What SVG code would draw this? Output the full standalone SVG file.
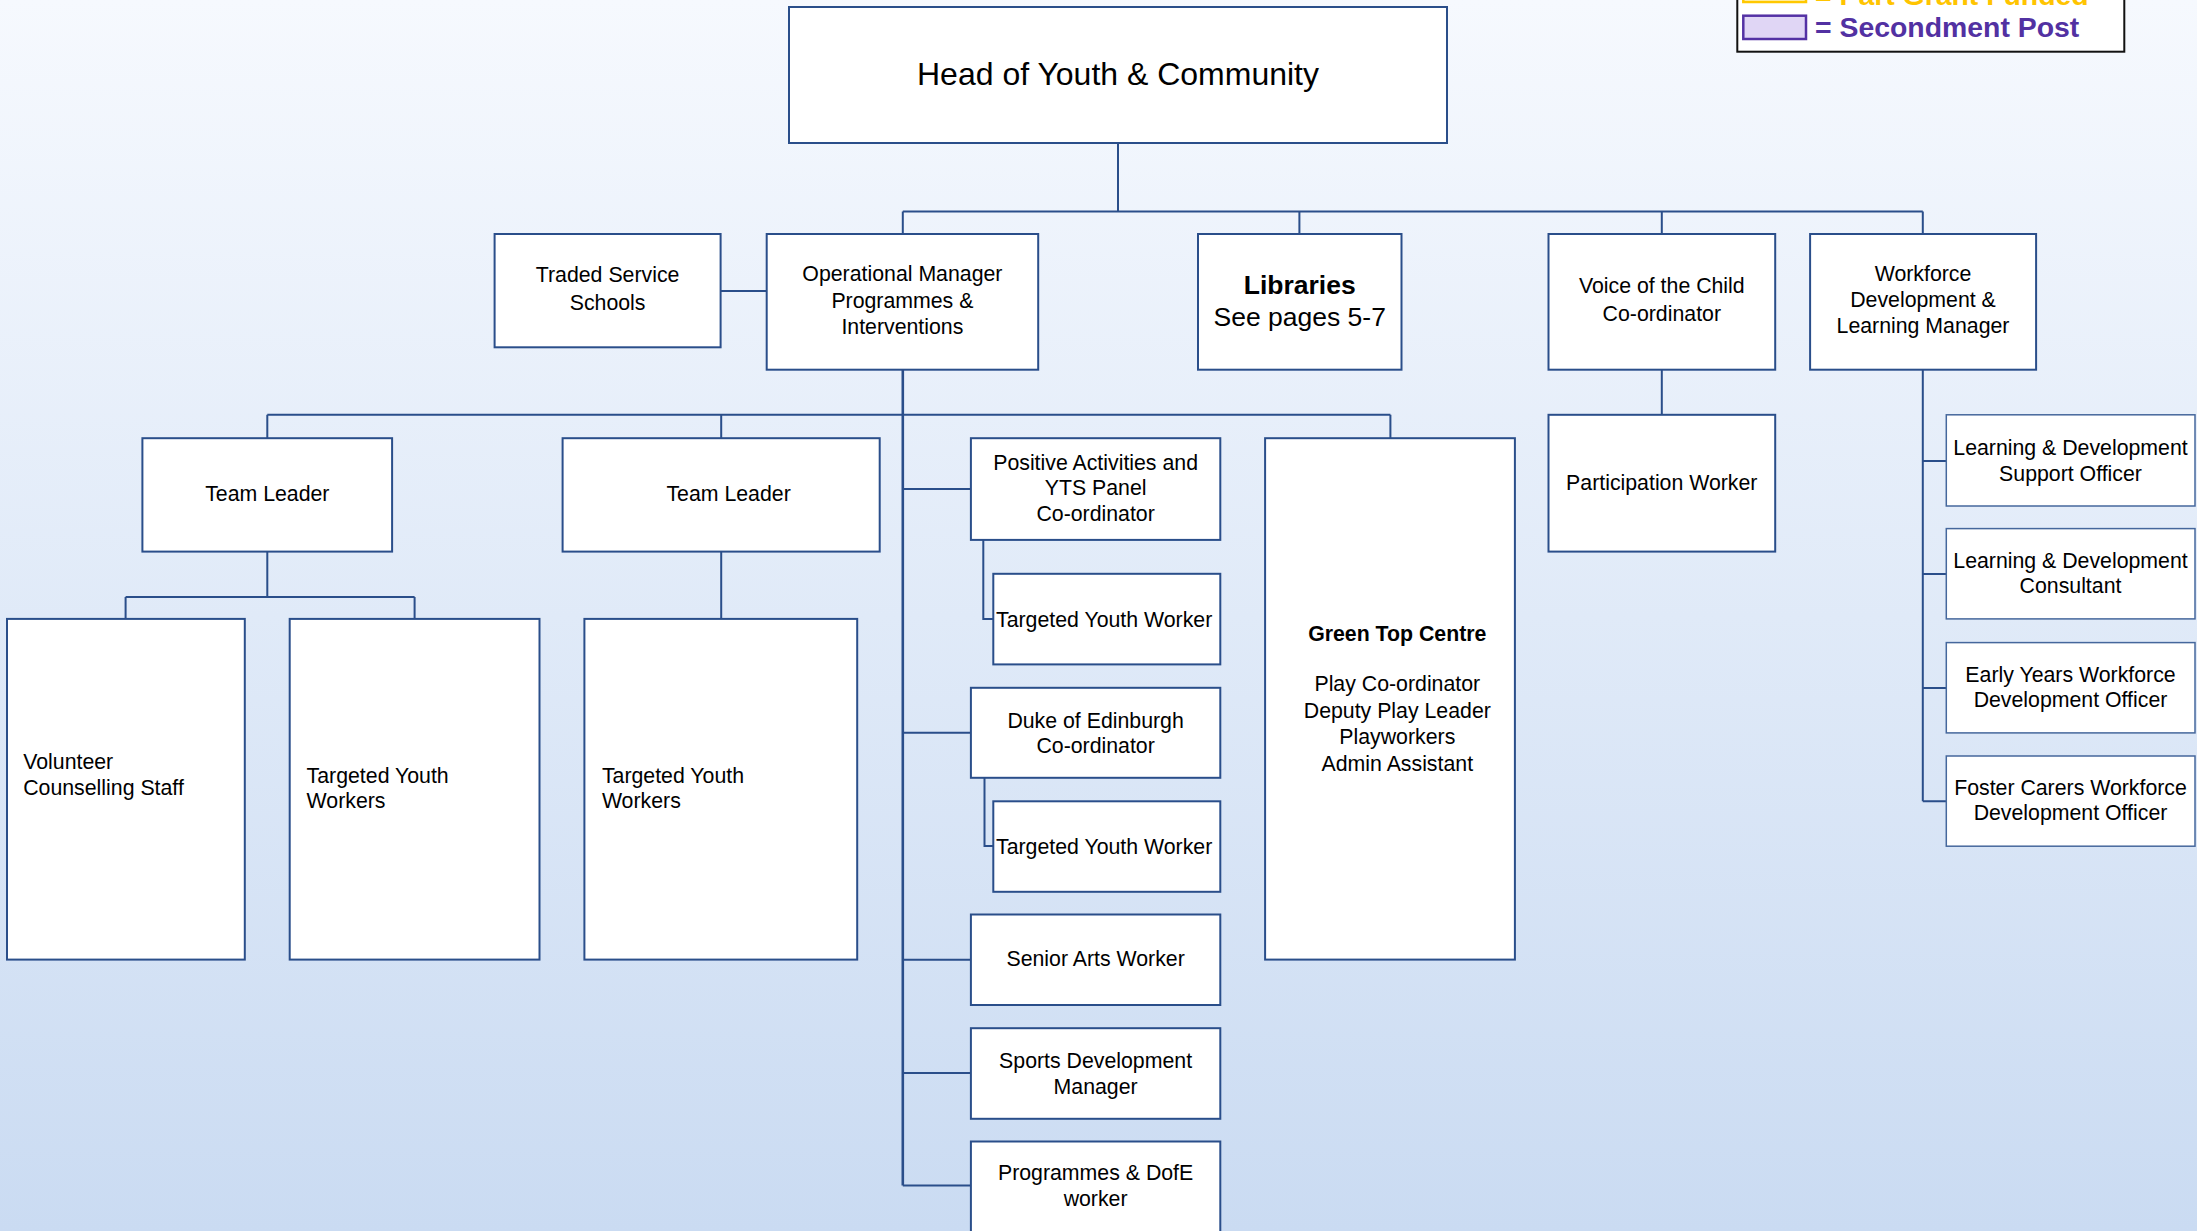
<svg xmlns="http://www.w3.org/2000/svg" width="2197" height="1231" viewBox="0 0 2197 1231">
<defs>
<linearGradient id="bg" x1="0" y1="0" x2="0" y2="1">
<stop offset="0" stop-color="#F6F9FE"/>
<stop offset="1" stop-color="#CADBF2"/>
</linearGradient>
</defs>
<style>
.box{fill:#FFFFFF;stroke:#2A4E8A;stroke-width:2}
.thin{fill:#FFFFFF;stroke:#45679C;stroke-width:1.5}
.ln{fill:none;stroke:#2A4E8A;stroke-width:2}
.main{fill:none;stroke:#2A4E8A;stroke-width:2.6}
text{font-family:"Liberation Sans",Arial,sans-serif;font-size:21.3px;fill:#000000}
.c{text-anchor:middle}
.b{font-weight:bold}
.leg{font-size:28.4px;font-weight:bold}
</style>
<rect x="0" y="0" width="2197" height="1231" fill="url(#bg)"/>

<g id="connectors">
<path class="ln" d="M1118 143 V211.5 M902.8 211.5 H1922.8 M902.8 211.5 V234 M1299.4 211.5 V234 M1661.8 211.5 V234 M1922.8 211.5 V234"/>
<path class="ln" d="M720.5 291 H766.7"/>
<path class="main" d="M902.8 369.7 V1185.4"/>
<path class="ln" d="M267.3 414.8 H1390.4 M267.3 414.8 V438.2 M721.2 414.8 V438.2 M1390.4 414.8 V438.2"/>
<path class="ln" d="M267.3 551.6 V597.1 M125.6 597.1 H414.6 M125.6 597.1 V618.9 M414.6 597.1 V618.9"/>
<path class="ln" d="M721.2 551.6 V618.9"/>
<path class="ln" d="M902.8 489 H970.9 M902.8 732.8 H970.9 M902.8 959.8 H970.9 M902.8 1073 H970.9 M902.8 1185.4 H970.9"/>
<path class="ln" d="M983.3 539.9 V618.9 H993.3 M984.5 777.8 V846 H993.3"/>
<path class="ln" d="M1661.8 369.7 V414.8"/>
<path class="ln" d="M1922.8 369.7 V801.3 M1922.8 461 H1946.3 M1922.8 574 H1946.3 M1922.8 688 H1946.3 M1922.8 801.3 H1946.3"/>
</g>

<g id="legend">
<rect x="1737.3" y="-40" width="387" height="91.7" fill="#FFFFFF" stroke="#111111" stroke-width="2"/>
<rect x="1743.3" y="-21" width="62.7" height="23" fill="#FFF8D0" stroke="#FFC800" stroke-width="2.5"/>
<text class="leg" x="1815" y="5" style="fill:#FFC400">= Part Grant Funded</text>
<rect x="1743.3" y="15.7" width="62.7" height="23.3" fill="#E0D6F5" stroke="#5432A4" stroke-width="2.5"/>
<text class="leg" x="1815" y="37.3" style="fill:#5231A2">= Secondment Post</text>
</g>

<g id="head">
<rect class="box" x="789" y="7" width="658" height="136"/>
<text class="c" x="1118" y="85" style="font-size:32px">Head of Youth &amp; Community</text>
</g>

<g id="traded">
<rect class="box" x="494.6" y="234" width="226" height="113.3"/>
<text class="c" x="607.6" y="282">Traded Service</text>
<text class="c" x="607.6" y="310">Schools</text>
</g>

<g id="opmanager">
<rect class="box" x="766.7" y="234" width="271.5" height="135.7"/>
<text class="c" x="902.4" y="281">Operational Manager</text>
<text class="c" x="902.4" y="307.5">Programmes &amp;</text>
<text class="c" x="902.4" y="334">Interventions</text>
</g>

<g id="libraries">
<rect class="box" x="1198" y="234" width="203.5" height="135.7"/>
<text class="c b" x="1299.7" y="294" style="font-size:26.5px">Libraries</text>
<text class="c" x="1299.7" y="325.5" style="font-size:26.5px">See pages 5-7</text>
</g>

<g id="voice">
<rect class="box" x="1548.5" y="234" width="226.7" height="135.7"/>
<text class="c" x="1661.8" y="293.3">Voice of the Child</text>
<text class="c" x="1661.8" y="321.3">Co-ordinator</text>
</g>

<g id="workforce">
<rect class="box" x="1810.1" y="234" width="226" height="135.7"/>
<text class="c" x="1923" y="280.7">Workforce</text>
<text class="c" x="1923" y="307.3">Development &amp;</text>
<text class="c" x="1923" y="333">Learning Manager</text>
</g>

<g id="teamleader1">
<rect class="box" x="142.4" y="438.2" width="249.7" height="113.4"/>
<text class="c" x="267.3" y="500.7">Team Leader</text>
</g>

<g id="teamleader2">
<rect class="box" x="562.6" y="438.2" width="317.1" height="113.4"/>
<text class="c" x="728.6" y="500.7">Team Leader</text>
</g>

<g id="volunteer">
<rect class="box" x="7" y="618.9" width="237.8" height="340.7"/>
<text x="23.2" y="769.4">Volunteer</text>
<text x="23.2" y="795">Counselling Staff</text>
</g>

<g id="tyw1">
<rect class="box" x="289.7" y="618.9" width="249.8" height="340.7"/>
<text x="306.6" y="782.6">Targeted Youth</text>
<text x="306.6" y="808">Workers</text>
</g>

<g id="tyw2">
<rect class="box" x="584.4" y="618.9" width="272.8" height="340.7"/>
<text x="601.9" y="782.6">Targeted Youth</text>
<text x="601.9" y="808">Workers</text>
</g>

<g id="positive">
<rect class="box" x="970.9" y="438.2" width="249.4" height="101.7"/>
<text class="c" x="1095.6" y="470">Positive Activities and</text>
<text class="c" x="1095.6" y="495">YTS Panel</text>
<text class="c" x="1095.6" y="521">Co-ordinator</text>
</g>

<g id="tywa">
<rect class="box" x="993.3" y="573.8" width="227" height="90.6"/>
<text x="996" y="626.5">Targeted Youth Worker</text>
</g>

<g id="duke">
<rect class="box" x="970.9" y="687.8" width="249.4" height="90"/>
<text class="c" x="1095.6" y="727.5">Duke of Edinburgh</text>
<text class="c" x="1095.6" y="753">Co-ordinator</text>
</g>

<g id="tywb">
<rect class="box" x="993.3" y="801.3" width="227" height="90.5"/>
<text x="996" y="853.5">Targeted Youth Worker</text>
</g>

<g id="seniorarts">
<rect class="box" x="970.9" y="914.5" width="249.4" height="90.5"/>
<text class="c" x="1095.6" y="966">Senior Arts Worker</text>
</g>

<g id="sports">
<rect class="box" x="970.9" y="1028.2" width="249.4" height="90.6"/>
<text class="c" x="1095.6" y="1068">Sports Development</text>
<text class="c" x="1095.6" y="1093.5">Manager</text>
</g>

<g id="programmes">
<rect class="box" x="970.9" y="1141.5" width="249.4" height="120"/>
<text class="c" x="1095.6" y="1180">Programmes &amp; DofE</text>
<text class="c" x="1095.6" y="1206">worker</text>
</g>

<g id="greentop">
<rect class="box" x="1265.1" y="438.2" width="249.8" height="521.4"/>
<text class="c b" x="1397.3" y="640.5">Green Top Centre</text>
<text class="c" x="1397.3" y="691">Play Co-ordinator</text>
<text class="c" x="1397.3" y="717.5">Deputy Play Leader</text>
<text class="c" x="1397.3" y="744">Playworkers</text>
<text class="c" x="1397.3" y="770.5">Admin Assistant</text>
</g>

<g id="participation">
<rect class="box" x="1548.5" y="414.8" width="226.7" height="136.8"/>
<text class="c" x="1661.8" y="489.5">Participation Worker</text>
</g>

<g id="ld-support">
<rect class="thin" x="1946.3" y="414.8" width="248.7" height="91.2"/>
<text class="c" x="2070.5" y="454.5">Learning &amp; Development</text>
<text class="c" x="2070.5" y="481">Support Officer</text>
</g>

<g id="ld-consultant">
<rect class="thin" x="1946.3" y="528.6" width="248.7" height="90.3"/>
<text class="c" x="2070.5" y="568">Learning &amp; Development</text>
<text class="c" x="2070.5" y="593">Consultant</text>
</g>

<g id="early-years">
<rect class="thin" x="1946.3" y="642.6" width="248.7" height="90.3"/>
<text class="c" x="2070.5" y="681.5">Early Years Workforce</text>
<text class="c" x="2070.5" y="706.5">Development Officer</text>
</g>

<g id="foster-carers">
<rect class="thin" x="1946.3" y="756" width="248.7" height="90.2"/>
<text class="c" x="2070.5" y="795">Foster Carers Workforce</text>
<text class="c" x="2070.5" y="820">Development Officer</text>
</g>
</svg>
